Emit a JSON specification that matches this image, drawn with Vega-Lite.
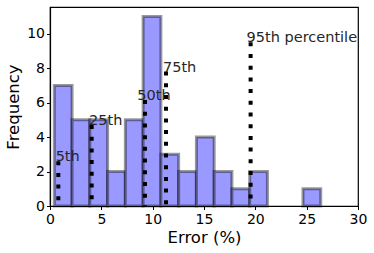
{
  "$schema": "https://vega.github.io/schema/vega-lite/v6.json",
  "width": 308,
  "height": 199,
  "autosize": {"type": "none"},
  "padding": {"left": 50, "top": 7, "right": 16, "bottom": 47},
  "background": "white",
  "config": {
    "view": {"stroke": "#000000", "strokeWidth": 1.2, "strokeOpacity": 1},
    "font": "DejaVu Sans",
    "axis": {
      "grid": false,
      "domain": true,
      "domainColor": "#000000",
      "domainWidth": 1.2,
      "tickColor": "#000000",
      "tickWidth": 1,
      "tickSize": 3.5,
      "labelOverlap": false,
      "labelFlush": false,
      "labelFont": "DejaVu Sans",
      "labelFontSize": 14,
      "labelColor": "black",
      "titleFont": "DejaVu Sans",
      "titleFontSize": 16.5,
      "titleFontWeight": "normal",
      "titleColor": "black"
    }
  },
  "datasets": {
    "bins": [
      {"start": 0.42, "end": 2.15, "count": 7},
      {"start": 2.15, "end": 3.88, "count": 5},
      {"start": 3.88, "end": 5.61, "count": 5},
      {"start": 5.61, "end": 7.34, "count": 2},
      {"start": 7.34, "end": 9.07, "count": 5},
      {"start": 9.07, "end": 10.8, "count": 11},
      {"start": 10.8, "end": 12.53, "count": 3},
      {"start": 12.53, "end": 14.26, "count": 2},
      {"start": 14.26, "end": 15.99, "count": 4},
      {"start": 15.99, "end": 17.72, "count": 2},
      {"start": 17.72, "end": 19.45, "count": 1},
      {"start": 19.45, "end": 21.18, "count": 2},
      {"start": 24.64, "end": 26.37, "count": 1}
    ],
    "pct": [
      {"label": "5th", "value": 0.81, "height": 2.6, "label_x": 0.55},
      {"label": "25th", "value": 4.06, "height": 4.7, "label_x": 3.8},
      {"label": "50th", "value": 9.25, "height": 6.15, "label_x": 8.5},
      {"label": "75th", "value": 11.3, "height": 7.8, "label_x": 11.0},
      {"label": "95th percentile", "value": 19.54, "height": 9.5, "label_x": 19.15}
    ]
  },
  "encoding": {
    "x": {"type": "quantitative", "scale": {"domain": [0, 30], "nice": false, "zero": false, "padding": 0},
          "axis": {"title": "Error (%)", "values": [0, 5, 10, 15, 20, 25, 30], "labelPadding": 3, "titlePadding": 3}},
    "y": {"type": "quantitative", "scale": {"domain": [0, 11.55], "nice": false, "padding": 0},
          "axis": {"title": "Frequency", "values": [0, 2, 4, 6, 8, 10], "labelPadding": 2, "titlePadding": 5}}
  },
  "layer": [
    {
      "data": {"name": "bins"},
      "mark": {"type": "bar", "fill": "#9999ff", "stroke": "black", "strokeOpacity": 0.4, "strokeWidth": 3},
      "encoding": {
        "x": {"field": "start", "type": "quantitative"},
        "x2": {"field": "end"},
        "y": {"field": "count", "type": "quantitative"},
        "y2": {"datum": 0}
      }
    },
    {
      "data": {"name": "pct"},
      "mark": {"type": "rule", "color": "black", "strokeWidth": 4, "strokeDash": [4, 7.7], "strokeCap": "butt"},
      "encoding": {
        "x": {"field": "value", "type": "quantitative"},
        "y": {"field": "height", "type": "quantitative"},
        "y2": {"datum": 0}
      }
    },
    {
      "data": {"name": "pct"},
      "mark": {"type": "text", "align": "left", "baseline": "alphabetic", "fontSize": 14.5, "color": "#262626", "font": "DejaVu Sans"},
      "encoding": {
        "x": {"field": "label_x", "type": "quantitative"},
        "y": {"field": "height", "type": "quantitative"},
        "text": {"field": "label"}
      }
    }
  ]
}
